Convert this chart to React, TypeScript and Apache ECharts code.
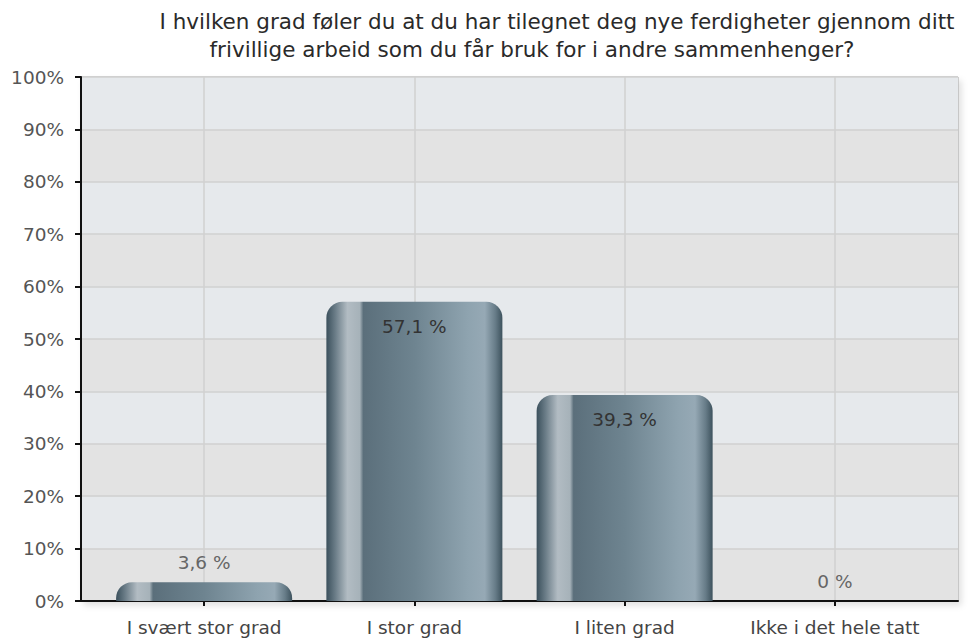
import React, { useEffect, useRef } from "react";
import * as echarts from "echarts";

const titleLine1 = "I hvilken grad føler du at du har tilegnet deg nye ferdigheter gjennom ditt";
const titleLine2 = "frivillige arbeid som du får bruk for i andre sammenhenger?";
const categories = ["I svært stor grad", "I stor grad", "I liten grad", "Ikke i det hele tatt"];
const values = [3.6, 57.1, 39.3, 0];
const valueLabels = ["3,6 %", "57,1 %", "39,3 %", "0 %"];

const FONT = "'DejaVu Sans', sans-serif";

export default function App() {
  const ref = useRef<HTMLDivElement>(null);
  useEffect(() => {
    if (!ref.current) return;
    const chart = echarts.init(ref.current, undefined, { renderer: "svg" });
    const barGradient = new echarts.graphic.LinearGradient(0, 0, 1, 0, [
      { offset: 0, color: "#3b505c" },
      { offset: 0.05, color: "#6a7c87" },
      { offset: 0.12, color: "#b2bcc3" },
      { offset: 0.19, color: "#a6b2b9" },
      { offset: 0.21, color: "#5b6f7b" },
      { offset: 0.5, color: "#6e8490" },
      { offset: 0.8, color: "#8ea3af" },
      { offset: 0.9, color: "#96a9b5" },
      { offset: 0.96, color: "#677c88" },
      { offset: 1, color: "#3d525d" },
    ]);
    const titleStyle = { fontFamily: FONT, fontSize: 21.5, fontWeight: "normal", color: "#2a2a2a" };
    chart.setOption({
      animation: false,
      textStyle: { fontFamily: FONT },
      title: [
        { text: titleLine1, left: 552, textAlign: "center", top: 5, textStyle: titleStyle },
        { text: titleLine2, left: 527, textAlign: "center", top: 33, textStyle: titleStyle },
      ],
      grid: [
        {
          left: 81,
          right: 10,
          top: 77,
          bottom: 41,
          show: true,
          backgroundColor: "#e4e4e4",
          borderColor: "#a0a0a0",
          borderWidth: 1,
          shadowColor: "rgba(0,0,0,0.12)",
          shadowBlur: 6,
          shadowOffsetX: 3,
          shadowOffsetY: 4,
        },
        { left: 99, right: 28, top: 77, bottom: 41 },
        { left: 204.125, right: 133.125, top: 77, bottom: 41 },
      ],
      xAxis: [
        {
          type: "value",
          gridIndex: 0,
          min: 0,
          max: 1,
          axisLine: { show: true, lineStyle: { color: "#111", width: 2 } },
          axisTick: { show: false },
          axisLabel: { show: false },
          splitLine: { show: false },
        },
        {
          type: "category",
          gridIndex: 1,
          data: categories,
          axisLine: { show: false },
          axisTick: { show: true, alignWithLabel: true, length: 5, lineStyle: { color: "#111", width: 2 } },
          axisLabel: { interval: 0, fontFamily: FONT, fontSize: 18.5, color: "#444", margin: 17 },
          splitLine: { show: false },
        },
        {
          type: "value",
          gridIndex: 2,
          min: 0,
          max: 3,
          interval: 1,
          axisLine: { show: false },
          axisTick: { show: false },
          axisLabel: { show: false },
          splitLine: { show: true, lineStyle: { color: "#d0d0d0", width: 1.5 } },
        },
      ],
      yAxis: [
        {
          type: "value",
          gridIndex: 0,
          min: 0,
          max: 100,
          interval: 10,
          axisLine: { show: true, lineStyle: { color: "#111", width: 2 } },
          axisTick: { show: true, length: 6, lineStyle: { color: "#111", width: 2 } },
          axisLabel: { fontFamily: FONT, fontSize: 18.5, color: "#555", formatter: "{value}%", margin: 17 },
          splitLine: { show: true, lineStyle: { color: "#d0d0d0", width: 1.5 } },
          splitArea: { show: true, areaStyle: { color: ["#e3e3e3", "#e6e9ec"] } },
        },
        { type: "value", gridIndex: 1, min: 0, max: 100, show: false },
        { type: "value", gridIndex: 2, min: 0, max: 100, show: false },
      ],
      series: [
        {
          type: "bar",
          xAxisIndex: 1,
          yAxisIndex: 1,
          z: 3,
          barWidth: 176,
          data: values.map((v, i) => ({
            value: v,
            label: {
              show: true,
              formatter: valueLabels[i],
              position: v > 20 ? "insideTop" : "top",
              distance: v > 20 ? 15 : 10,
              color: v > 20 ? "#333" : "#666",
              fontFamily: FONT,
              fontSize: 18.5,
            },
          })),
          itemStyle: {
            color: barGradient,
            borderRadius: [16, 16, 0, 0],
          },
        },
      ],
    });
    return () => chart.dispose();
  }, []);
  return <div ref={ref} style={{ width: 968, height: 642, position: "absolute", left: 0, top: 0 }} />;
}
